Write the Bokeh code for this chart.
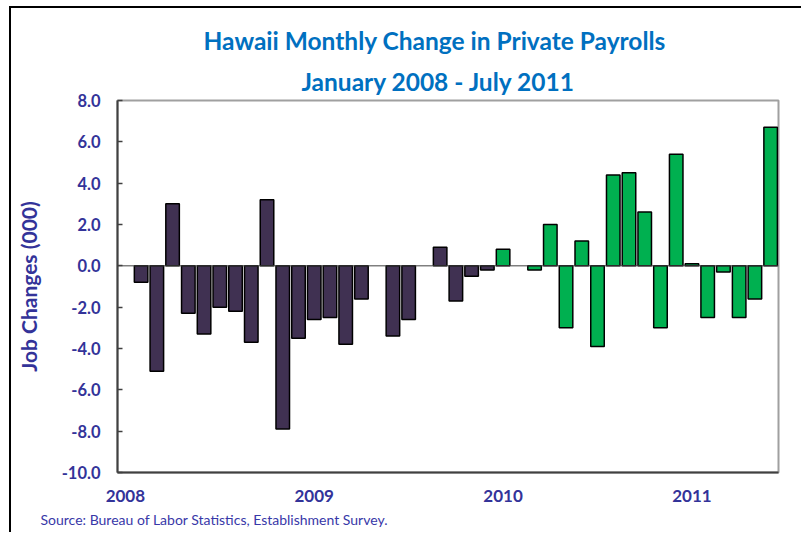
import math
from bokeh.plotting import figure
from bokeh.models import (ColumnDataSource, FixedTicker, NumeralTickFormatter, Span,
                          Title, Range1d, CDSView, BooleanFilter)
from bokeh.embed import file_html
from bokeh.resources import INLINE

# ---- data (monthly change in private payrolls, thousands) ----
months = [f"{m} {y}" for y in (2008, 2009, 2010, 2011)
          for m in ("Jan", "Feb", "Mar", "Apr", "May", "Jun", "Jul", "Aug", "Sep", "Oct", "Nov", "Dec")][:42]
values_2008_2009 = [0.0, -0.8, -5.1, 3.0, -2.3, -3.3, -2.0, -2.2, -3.7, 3.2, -7.9, -3.5,
                    -2.6, -2.5, -3.8, -1.6, 0.0, -3.4, -2.6, 0.0, 0.9, -1.7, -0.5, -0.2]
values_2010_2011 = [0.8, 0.0, -0.2, 2.0, -3.0, 1.2, -3.9, 4.4, 4.5, 2.6, -3.0, 5.4,
                    0.1, -2.5, -0.3, -2.5, -1.6, 6.7]
year_ticks = [0, 12, 24, 36]
year_labels = ["2008", "2009", "2010", "2011"]
y_ticks = [-10, -8, -6, -4, -2, 0, 2, 4, 6, 8]

title_1 = "Hawaii Monthly Change in Private Payrolls"
title_2 = "January 2008 - July 2011"
y_title = "Job Changes (000)"
source_note = "Source: Bureau of Labor Statistics, Establishment Survey."

PURPLE = "#403152"
GREEN = "#00B050"
AXIS_TXT = "#333399"
FONT = "Lato"

n1 = len(values_2008_2009)
src1 = ColumnDataSource(dict(x=list(range(n1)), month=months[:n1], v=values_2008_2009))
src2 = ColumnDataSource(dict(x=list(range(n1, n1 + len(values_2010_2011))),
                             month=months[n1:], v=values_2010_2011))

p = figure(width=792, height=526, output_backend="svg", toolbar_location=None,
           x_range=Range1d(-0.5, len(months) - 0.5), y_range=Range1d(-10, 8),
           min_border_left=106, min_border_right=25, min_border_top=92, min_border_bottom=62)
p.styles = {"margin-left": "9px", "margin-top": "6px",
            "border-top": "2px solid black", "border-left": "2px solid black"}

p.xgrid.visible = False
p.ygrid.visible = False
p.outline_line_color = "#A0A0A0"
p.outline_line_width = 2

p.add_layout(Span(location=0, dimension="width", line_color="#404040", line_width=1))

for src, col in ((src1, PURPLE), (src2, GREEN)):
    view = CDSView(filter=BooleanFilter([v != 0 for v in src.data["v"]]))
    p.vbar(x="x", top="v", bottom=0, width=0.86, source=src, view=view,
           fill_color=col, line_color="#000000", line_width=1.5)

# y axis
ya = p.yaxis[0]
ya.ticker = FixedTicker(ticks=y_ticks)
ya.formatter = NumeralTickFormatter(format="0.0")
ya.major_tick_in = 5
ya.major_tick_out = 0
ya.minor_tick_in = 0
ya.minor_tick_out = 0
ya.axis_line_color = "#404040"
ya.axis_line_width = 2
ya.major_tick_line_color = "#404040"
ya.major_tick_line_width = 1.5
ya.major_label_text_font = FONT
ya.major_label_text_font_style = "bold"
ya.major_label_text_font_size = "16.5px"
ya.major_label_text_color = AXIS_TXT
ya.major_label_standoff = 17
ya.axis_label = y_title
ya.axis_label_text_font = FONT
ya.axis_label_text_font_style = "bold"
ya.axis_label_text_font_size = "21px"
ya.axis_label_text_color = AXIS_TXT
ya.axis_label_standoff = 18

# x axis
xa = p.xaxis[0]
xa.ticker = FixedTicker(ticks=year_ticks)
xa.major_label_overrides = {t: l for t, l in zip(year_ticks, year_labels)}
xa.major_tick_in = 0
xa.major_tick_out = 0
xa.minor_tick_in = 0
xa.minor_tick_out = 0
xa.axis_line_color = "#404040"
xa.axis_line_width = 2
xa.major_label_text_font = FONT
xa.major_label_text_font_style = "bold"
xa.major_label_text_font_size = "17px"
xa.major_label_text_color = AXIS_TXT
xa.major_label_standoff = 17

# titles (nearest to plot added first)
p.add_layout(Title(text=title_2, align="left", offset=184, text_font=FONT,
                   text_font_style="bold", text_font_size="24.5px", text_color="#0070C0"), "above")
p.add_layout(Title(text=title_1, align="left", offset=86, text_font=FONT,
                   text_font_style="bold", text_font_size="24.5px", text_color="#0070C0"), "above")
p.add_layout(Title(text=source_note, align="left", offset=-77, standoff=8, text_font=FONT,
                   text_font_style="normal", text_font_size="14px", text_color="#3838A8"), "below")

open("out.html", "w").write(file_html(p, INLINE))
